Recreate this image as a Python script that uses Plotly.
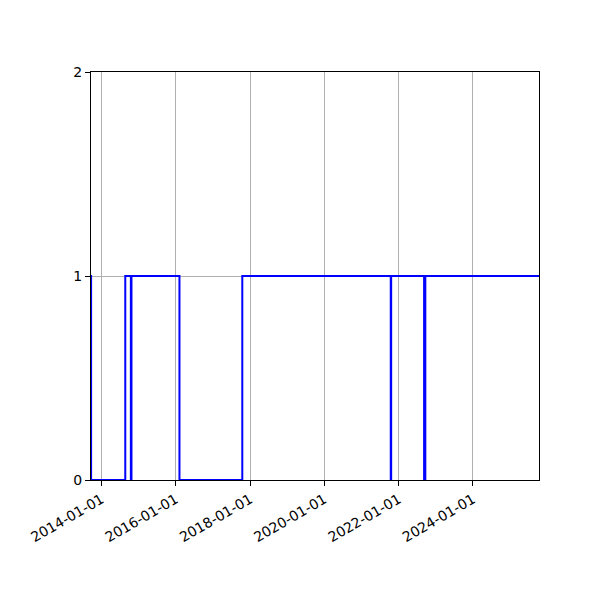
import plotly.graph_objects as go

# step series: state switches between 0 and 1
dates = [
    "2013-09-19", "2013-09-20",
    "2014-08-22",
    "2014-10-16", "2014-10-22",
    "2016-02-06",
    "2017-10-16",
    "2021-10-15", "2021-10-19",
    "2022-09-08", "2022-09-20",
    "2025-10-12",
]
values = [1, 0, 1, 0, 1, 0, 1, 0, 1, 0, 1, 1]

x_start = "2013-09-19"
x_end = "2025-10-12"
tick_dates = ["2014-01-01", "2016-01-01", "2018-01-01", "2020-01-01", "2022-01-01", "2024-01-01"]

fig = go.Figure()

fig.add_trace(
    go.Scatter(
        x=dates,
        y=values,
        mode="lines",
        line=dict(color="blue", width=2, shape="hv"),
        showlegend=False,
    )
)

axis_style = dict(
    showline=True,
    linecolor="black",
    linewidth=1,
    mirror=True,
    ticks="outside",
    ticklen=5,
    tickcolor="black",
    showgrid=True,
    gridcolor="#b0b0b0",
    gridwidth=1,
    zeroline=False,
    tickfont=dict(family="DejaVu Sans", size=14, color="black"),
)

fig.update_xaxes(
    range=[x_start, x_end],
    tickvals=tick_dates,
    ticktext=tick_dates,
    tickangle=-30,
    **axis_style,
)
fig.update_yaxes(
    range=[0, 2],
    tickvals=[0, 1, 2],
    **axis_style,
)

# page body adds an 8px offset, so margins are trimmed to match
fig.update_layout(
    width=600,
    height=600,
    autosize=False,
    plot_bgcolor="white",
    paper_bgcolor="white",
    margin=dict(l=83, r=69, t=64, b=128, pad=0),
)

fig.write_html("out.html")
